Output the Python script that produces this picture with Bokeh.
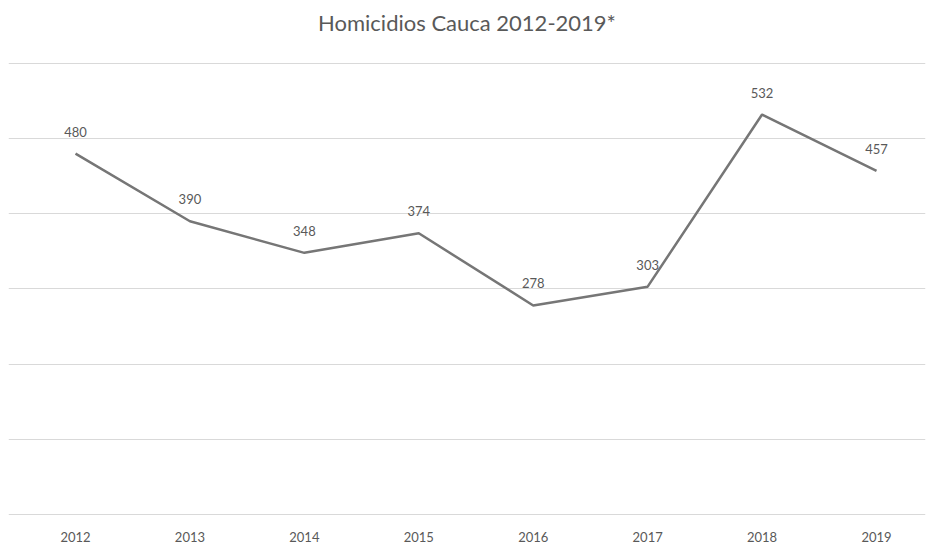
from bokeh.plotting import figure
from bokeh.models import Range1d, FixedTicker, ColumnDataSource
from bokeh.core.properties import value
from bokeh.embed import file_html
from bokeh.resources import INLINE

years = [2012, 2013, 2014, 2015, 2016, 2017, 2018, 2019]
homicidios = [480, 390, 348, 374, 278, 303, 532, 457]
year_labels = [str(y) for y in years]
grid_ticks = [0, 100, 200, 300, 400, 500, 600]

FONT = "Lato"
TXT = "#595959"

src = ColumnDataSource(dict(x=years, y=homicidios, lab=[str(v) for v in homicidios]))

p = figure(width=927, height=550, output_backend="svg", toolbar_location=None,
           x_range=Range1d(2011.4145, 2019.428), y_range=Range1d(-1.5, 629.2),
           min_border_left=8, min_border_right=2, min_border_top=40, min_border_bottom=35,
           title="Homicidios Cauca 2012-2019*")
p.title.align = "center"
p.title.text_font = FONT
p.title.text_font_size = "22px"
p.title.text_font_style = "normal"
p.title.text_color = TXT
p.title.standoff = 12
p.outline_line_color = None
p.background_fill_color = "white"
p.border_fill_color = "white"

p.yaxis.visible = False
p.xgrid.grid_line_color = None
p.ygrid.ticker = FixedTicker(ticks=grid_ticks)
p.ygrid.grid_line_color = "#d9d9d9"
p.ygrid.grid_line_width = 1

ax = p.xaxis[0]
ax.ticker = FixedTicker(ticks=years)
ax.major_label_overrides = {y: s for y, s in zip(years, year_labels)}
ax.axis_line_color = None
ax.major_tick_line_color = None
ax.minor_tick_line_color = None
ax.major_tick_out = 0
ax.major_tick_in = 0
ax.major_label_standoff = 16
ax.major_label_text_font = FONT
ax.major_label_text_font_size = "13px"
ax.major_label_text_color = TXT

p.line("x", "y", source=src, line_color="#767676", line_width=2.5)
p.text("x", "y", text="lab", source=src, text_align="center", text_baseline="middle",
       y_offset=-22, text_font=value(FONT), text_font_size="13px", text_color=TXT)

open("out.html", "w").write(file_html(p, INLINE))
